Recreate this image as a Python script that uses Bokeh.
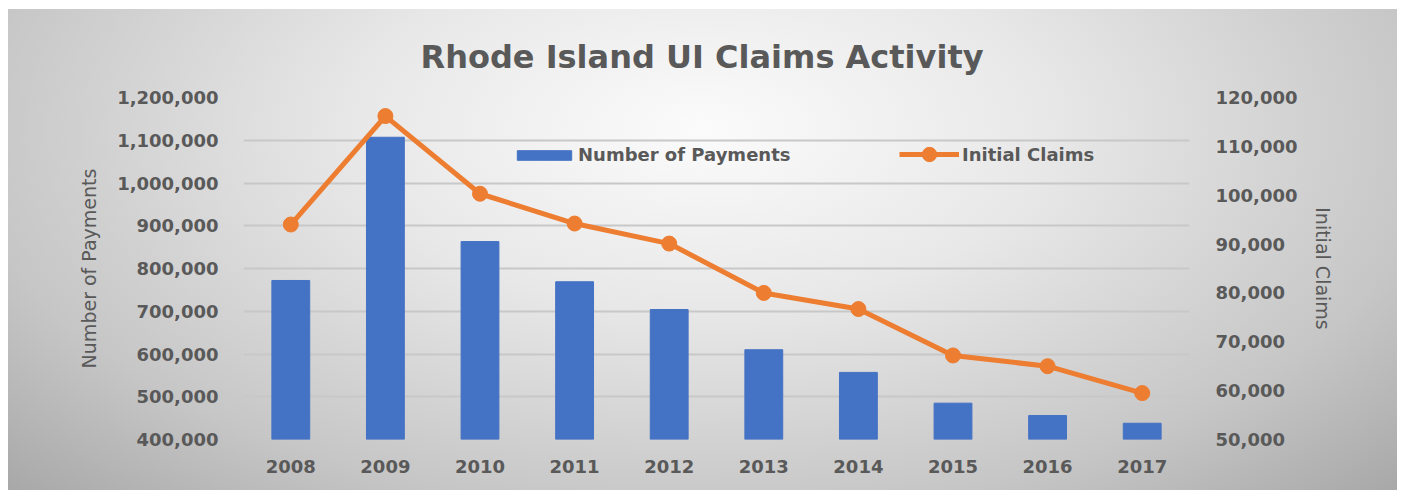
from bokeh.plotting import figure
from bokeh.models import Range1d, LinearAxis, FixedTicker, NumeralTickFormatter, Legend, LegendItem, FactorRange
from bokeh.embed import file_html
from bokeh.resources import INLINE

years = ["2008", "2009", "2010", "2011", "2012", "2013", "2014", "2015", "2016", "2017"]
payments = [772000, 1107000, 863000, 769000, 704000, 610000, 557000, 485000, 456000, 438000]
claims = [94000, 116200, 100300, 94200, 90100, 80000, 76700, 67200, 65000, 59500]
left_ticks = [400000, 500000, 600000, 700000, 800000, 900000, 1000000, 1100000, 1200000]
right_ticks = [50000, 60000, 70000, 80000, 90000, 100000, 110000, 120000]

FONT = "DejaVu Sans"
TXT = "#595959"

p = figure(width=1397, height=490, x_range=FactorRange(factors=years, range_padding=0),
           y_range=Range1d(left_ticks[0], left_ticks[-1]),
           output_backend="svg", toolbar_location=None,
           min_border_left=243, min_border_right=208, min_border_top=97, min_border_bottom=51,
           title="Rhode Island UI Claims Activity")
p.extra_y_ranges = {"claims": Range1d(right_ticks[0], right_ticks[-1])}

p.background_fill_color = None
p.border_fill_color = None
p.outline_line_color = None
p.styles = {"background": "radial-gradient(ellipse farthest-corner at 50% 25%, #fbfbfb 0%, #e8e8e8 35%, #c6c6c6 75%, #a8a8a8 100%) 8px 9px / 1389px 481px no-repeat, #ffffff"}

p.title.align = "left"
p.title.text_font = FONT
p.title.text_font_size = "32px"
p.title.text_font_style = "bold"
p.title.text_color = TXT
p.title.standoff = 44
p.title.offset = 177

# bars
bars = p.vbar(x=years, top=payments, bottom=left_ticks[0], width=0.4, color="#4472C4")
# line
ln = p.line(x=years, y=claims, y_range_name="claims", line_color="#ED7D31", line_width=5)
mk = p.scatter(x=years, y=claims, y_range_name="claims", size=15, fill_color="#ED7D31", line_color="#ED7D31")

# axes
ya = p.yaxis[0]
ya.ticker = FixedTicker(ticks=left_ticks)
ya.formatter = NumeralTickFormatter(format="0,0")
ya.axis_label = "Number of Payments"

ra = LinearAxis(y_range_name="claims", ticker=FixedTicker(ticks=right_ticks),
                formatter=NumeralTickFormatter(format="0,0"), axis_label="Initial Claims")
p.add_layout(ra, "right")

for ax in [ya, ra, p.xaxis[0]]:
    ax.axis_line_color = None
    ax.major_tick_line_color = None
    ax.minor_tick_line_color = None
    ax.major_label_text_font = FONT
    ax.major_label_text_font_size = "18px"
    ax.major_label_text_font_style = "bold"
    ax.major_label_text_color = TXT
    ax.axis_label_text_font = FONT
    ax.axis_label_text_font_size = "19px"
    ax.axis_label_text_font_style = "normal"
    ax.axis_label_text_color = TXT
ya.major_label_standoff = 19
ra.major_label_standoff = 20
p.xaxis[0].major_label_standoff = 14
ya.axis_label_standoff = 14
ra.axis_label_standoff = 12

p.xgrid.grid_line_color = None
p.ygrid.ticker = FixedTicker(ticks=left_ticks)
p.ygrid.grid_line_color = "#c8c8c8"
p.ygrid.grid_line_width = 2

common = dict(orientation="horizontal", background_fill_alpha=0, border_line_color=None,
              label_text_font=FONT, label_text_font_size="18px", label_text_font_style="bold",
              label_text_color=TXT, padding=4)
leg1 = Legend(items=[LegendItem(label="Number of Payments", renderers=[bars])],
              location=(267, 274), glyph_width=68, glyph_height=12, label_standoff=0, **common)
leg2 = Legend(items=[LegendItem(label="Initial Claims", renderers=[ln, mk])],
              location=(656, 267), glyph_width=60, glyph_height=36, label_standoff=3, **common)
p.add_layout(leg1)
p.add_layout(leg2)

open("out.html", "w").write(file_html(p, INLINE))
